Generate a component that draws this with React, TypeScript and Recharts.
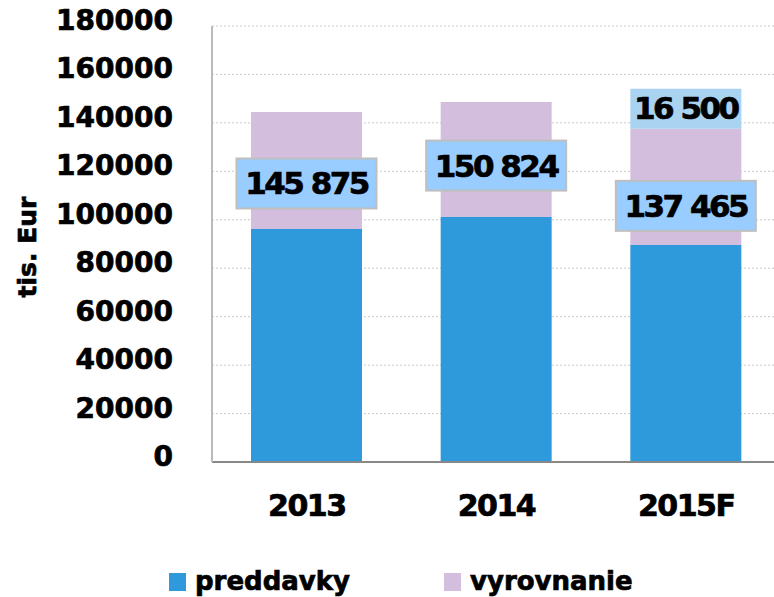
import { BarChart, Bar, XAxis, YAxis, CartesianGrid, LabelList } from "recharts"

const years      = ["2013", "2014", "2015F"]
const preddavky  = [96200, 101100, 89600]
const vyrovnanie = [48300, 47500, 48000]
const odhad      = [0, 0, 16500]
const boxValues  = [145875, 150824, 137465]
const yTicks     = [0, 20000, 40000, 60000, 80000, 100000, 120000, 140000, 160000, 180000]

// how far (px) each box label sits below the middle of the purple segment
const boxShift = [13, 6, 19]

const FONT = "'DejaVu Sans', sans-serif"
const BLUE = "#2E9ADB"
const LILAC = "#D4BEDD"
const LIGHT = "#A9D3F1"

const fmt = (n: number) => String(n).replace(/\B(?=(\d{3})+(?!\d))/g, " ")

const data = years.map((year, i) => ({
    year,
    preddavky:  preddavky[i],
    vyrovnanie: vyrovnanie[i],
    odhad:      odhad[i],
}))

// the original font is heavier than DejaVu bold, a thin stroke makes up for it
const heavy = { fontFamily: FONT, fontWeight: "bold", fill: "#000", stroke: "#000", strokeWidth: 0.7 }

const YTick = ({ x, y, payload }: any) => (
    <text x={x} y={y + 4} textAnchor="end" fontSize={28} {...heavy}>
        {payload.value}
    </text>
)

const XTick = ({ x, y, payload }: any) => (
    <text x={x} y={y + 54} textAnchor="middle" fontSize={30} letterSpacing={-1.5} {...heavy}>
        {payload.value}
    </text>
)

const BoxLabel = (props: any) => {
    const vb = props.viewBox ?? props
    const i = props.index ?? 0
    const cx = vb.x + vb.width / 2
    const cy = vb.y + vb.height / 2 + boxShift[i]
    return (
        <g>
            <rect x={cx - 70} y={cy - 25} width={140} height={50} fill="#99CCFF" stroke="#BFBFBF" strokeWidth={2} />
            <text x={cx} y={cy + 11} textAnchor="middle" fontSize={31} letterSpacing={-2.5} {...heavy}>
                {fmt(boxValues[i])}
            </text>
        </g>
    )
}

const TopLabel = (props: any) => {
    const vb = props.viewBox ?? props
    if (!props.value) return null
    const cx = vb.x + vb.width / 2
    const cy = vb.y + vb.height / 2
    return (
        <text x={cx} y={cy + 10} textAnchor="middle" fontSize={31} letterSpacing={-2.5} {...heavy}>
            {fmt(props.value)}
        </text>
    )
}

const YTitle = () => (
    <text x={36} y={247} transform="rotate(-90, 36, 247)" textAnchor="middle" fontSize={25} {...heavy}>
        tis. Eur
    </text>
)

const legendText = {
    position: "absolute" as const, top: 568,
    fontFamily: FONT, fontWeight: "bold" as const, fontSize: 26, lineHeight: "26px",
    color: "#000", WebkitTextStroke: "0.7px #000",
}

export default function App() {
    return (
        <div style={{ position: "absolute", left: 0, top: 0, width: 774, height: 597, overflow: "hidden", background: "#fff" }}>
            <BarChart width={781} height={597} data={data} margin={{ top: 26, right: 0, left: 0, bottom: 0 }}>
                <CartesianGrid vertical={false} stroke="#C8C8C8" strokeDasharray="2 2" />
                <XAxis
                    dataKey="year"
                    height={135}
                    axisLine={{ stroke: "#888", strokeWidth: 2 }}
                    tickLine={false}
                    tickSize={0}
                    tickMargin={0}
                    tick={<XTick />}
                />
                <YAxis
                    width={212}
                    domain={[0, 180000]}
                    ticks={yTicks}
                    interval={0}
                    axisLine={{ stroke: "#BBB", strokeWidth: 2 }}
                    tickLine={false}
                    tickSize={0}
                    tickMargin={39}
                    tick={<YTick />}
                    label={{ content: YTitle }}
                />
                <Bar dataKey="preddavky" stackId="a" fill={BLUE} barSize={111} isAnimationActive={false} />
                <Bar dataKey="vyrovnanie" stackId="a" fill={LILAC} barSize={111} isAnimationActive={false}>
                    <LabelList dataKey="vyrovnanie" content={BoxLabel} />
                </Bar>
                <Bar dataKey="odhad" stackId="a" fill={LIGHT} barSize={111} isAnimationActive={false}>
                    <LabelList dataKey="odhad" content={TopLabel} />
                </Bar>
            </BarChart>

            <div style={{ position: "absolute", left: 169, top: 573, width: 17, height: 18, background: BLUE }} />
            <div style={{ ...legendText, left: 195 }}>preddavky</div>
            <div style={{ position: "absolute", left: 444, top: 573, width: 17, height: 18, background: LILAC }} />
            <div style={{ ...legendText, left: 470 }}>vyrovnanie</div>
        </div>
    )
}
